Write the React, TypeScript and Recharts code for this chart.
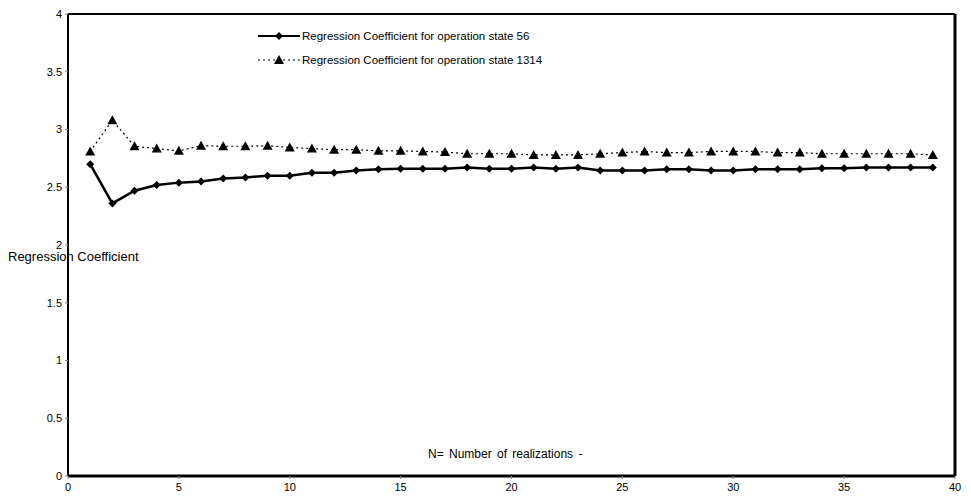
import { LineChart, Line, XAxis, YAxis, ReferenceLine } from "recharts";

// number of realizations
const N = [
  1, 2, 3, 4, 5, 6, 7, 8, 9, 10, 11, 12, 13, 14, 15, 16, 17, 18, 19, 20,
  21, 22, 23, 24, 25, 26, 27, 28, 29, 30, 31, 32, 33, 34, 35, 36, 37, 38, 39,
];

const state56 = [
  2.70, 2.36, 2.47, 2.52, 2.54, 2.55, 2.575, 2.585, 2.60, 2.60,
  2.625, 2.625, 2.645, 2.655, 2.66, 2.66, 2.66, 2.67, 2.66, 2.66,
  2.67, 2.66, 2.67, 2.645, 2.645, 2.645, 2.655, 2.655, 2.645, 2.645,
  2.655, 2.655, 2.655, 2.665, 2.665, 2.67, 2.67, 2.67, 2.67,
];

const state1314 = [
  2.81, 3.08, 2.855, 2.835, 2.815, 2.86, 2.855, 2.855, 2.86, 2.845,
  2.835, 2.825, 2.825, 2.815, 2.815, 2.81, 2.805, 2.79, 2.79, 2.79,
  2.78, 2.78, 2.78, 2.79, 2.80, 2.81, 2.80, 2.80, 2.81, 2.81,
  2.81, 2.80, 2.80, 2.79, 2.79, 2.79, 2.79, 2.79, 2.78,
];

const xTicks = [0, 5, 10, 15, 20, 25, 30, 35, 40];
const yTicks = [0, 0.5, 1, 1.5, 2, 2.5, 3, 3.5, 4];

const LABEL_56 = "Regression Coefficient for operation state 56";
const LABEL_1314 = "Regression Coefficient for operation state 1314";

const data = N.map((n, i) => ({ n, s56: state56[i], s1314: state1314[i] }));

const FONT = "'Liberation Sans', Arial, sans-serif";

function Diamond({ cx, cy }: { cx: number; cy: number }) {
  return <path d={`M${cx},${cy - 4}L${cx + 4},${cy}L${cx},${cy + 4}L${cx - 4},${cy}Z`} fill="#000" />;
}

function Triangle({ cx, cy }: { cx: number; cy: number }) {
  return <path d={`M${cx},${cy - 5}L${cx + 5},${cy + 4}L${cx - 5},${cy + 4}Z`} fill="#000" />;
}

function LegendBox() {
  return (
    <div style={{ position: "absolute", left: 258, top: 24, fontFamily: FONT, fontSize: 11.5, color: "#000" }}>
      <div style={{ display: "flex", alignItems: "center", height: 24 }}>
        <svg width={44} height={12}>
          <line x1={0} y1={6} x2={42} y2={6} stroke="#000" strokeWidth={2} />
          <Diamond cx={21} cy={6} />
        </svg>
        <span>{LABEL_56}</span>
      </div>
      <div style={{ display: "flex", alignItems: "center", height: 24 }}>
        <svg width={44} height={12}>
          <line x1={0} y1={6} x2={42} y2={6} stroke="#000" strokeWidth={1.2} strokeDasharray="2 3" />
          <Triangle cx={21} cy={6} />
        </svg>
        <span>{LABEL_1314}</span>
      </div>
    </div>
  );
}

export default function App() {
  return (
    <div style={{ position: "absolute", left: 0, top: 0, width: 971, height: 502, background: "#fff" }}>
      <LineChart
        width={971}
        height={502}
        data={data}
        margin={{ top: 14, right: 16, bottom: 0, left: 0 }}
      >
        <XAxis
          dataKey="n"
          type="number"
          domain={[0, 40]}
          ticks={xTicks}
          tickSize={3}
          tickMargin={4}
          height={26}
          axisLine={{ stroke: "#000", strokeWidth: 3 }}
          tickLine={{ stroke: "#888" }}
          tick={{ fontSize: 11, fill: "#000", fontFamily: FONT }}
        />
        <YAxis
          type="number"
          domain={[0, 4]}
          ticks={yTicks}
          width={68}
          tickSize={3}
          tickMargin={3}
          axisLine={{ stroke: "#000", strokeWidth: 2 }}
          tickLine={{ stroke: "#888" }}
          tick={{ fontSize: 11, fill: "#000", fontFamily: FONT }}
        />
        <ReferenceLine y={4} stroke="#000" strokeWidth={2} />
        <ReferenceLine x={40} stroke="#000" strokeWidth={3} />
        <Line
          dataKey="s1314"
          stroke="#000"
          strokeWidth={1.2}
          strokeDasharray="2 3"
          dot={(p: any) => <Triangle key={`t${p.index}`} cx={p.cx} cy={p.cy} />}
          isAnimationActive={false}
        />
        <Line
          dataKey="s56"
          stroke="#000"
          strokeWidth={2.5}
          dot={(p: any) => <Diamond key={`d${p.index}`} cx={p.cx} cy={p.cy} />}
          isAnimationActive={false}
        />
      </LineChart>
      <LegendBox />
      <div style={{ position: "absolute", left: 8, top: 249, fontFamily: FONT, fontSize: 13, whiteSpace: "nowrap" }}>
        Regression Coefficient
      </div>
      <div style={{ position: "absolute", left: 428, top: 447, fontFamily: FONT, fontSize: 12, whiteSpace: "nowrap", wordSpacing: 2 }}>
        N= Number of realizations -
      </div>
    </div>
  );
}
